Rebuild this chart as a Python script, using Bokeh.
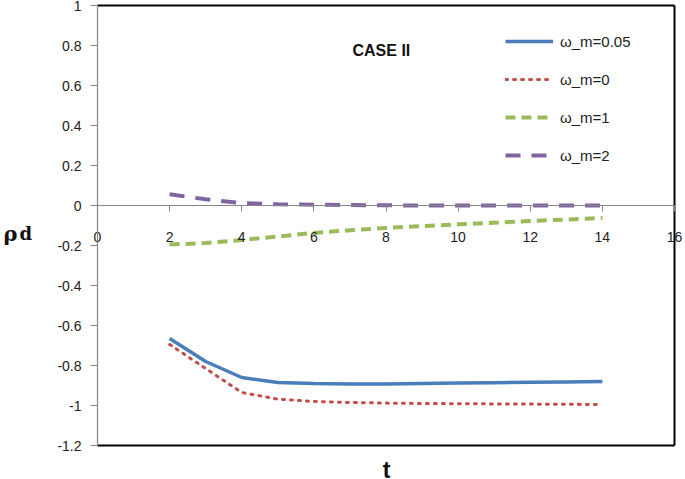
from bokeh.plotting import figure
from bokeh.models import (LinearAxis, FixedTicker, Label, Legend, LegendItem)
from bokeh.embed import file_html
from bokeh.resources import INLINE

t = [2, 3, 4, 5, 6, 7, 8, 9, 10, 11, 12, 13, 14]
rho_w005 = [-0.665, -0.78, -0.86, -0.885, -0.89, -0.893, -0.892, -0.89, -0.888, -0.886, -0.884, -0.882, -0.88]
rho_w0 = [-0.695, -0.815, -0.935, -0.968, -0.98, -0.985, -0.988, -0.99, -0.991, -0.992, -0.993, -0.994, -0.995]
rho_w1 = [-0.195, -0.188, -0.172, -0.155, -0.137, -0.124, -0.112, -0.103, -0.094, -0.086, -0.078, -0.07, -0.062]
rho_w2 = [0.056, 0.031, 0.012, 0.006, 0.004, 0.002, 0.001, 0.0, 0.0, 0.0, 0.0, 0.0, 0.0]

series_labels = ["ω_m=0.05", "ω_m=0", "ω_m=1", "ω_m=2"]
x_ticks = [0, 2, 4, 6, 8, 10, 12, 14, 16]
y_ticks = [-1.2, -1.0, -0.8, -0.6, -0.4, -0.2, 0.0, 0.2, 0.4, 0.6, 0.8, 1.0]
y_tick_labels = ["-1.2", "-1", "-0.8", "-0.6", "-0.4", "-0.2", "0", "0.2", "0.4", "0.6", "0.8", "1"]
X_LIM = (0, 16)
Y_LIM = (-1.2, 1.0)

FONT = "Liberation Sans"
W, H = 684, 479
# plot-area box on the page (pixels)
PX_L, PX_R, PX_T, PX_B = 97, 674, 5, 445

kx = (PX_R - PX_L) / (X_LIM[1] - X_LIM[0])
ky = (PX_B - PX_T) / (Y_LIM[1] - Y_LIM[0])
x_range = (X_LIM[0] - PX_L / kx, X_LIM[1] + (W - PX_R) / kx)
y_range = (Y_LIM[0] - (H - PX_B) / ky, Y_LIM[1] + PX_T / ky)

p = figure(width=W, height=H, x_range=x_range, y_range=y_range,
           output_backend="svg", toolbar_location=None,
           x_axis_location=None, y_axis_location=None, min_border=0)
p.xgrid.visible = False
p.ygrid.visible = False
p.outline_line_color = None
p.background_fill_color = "white"
p.border_fill_color = "white"

def style_axis(ax):
    ax.axis_line_color = "#868686"
    ax.axis_line_width = 1.2
    ax.major_tick_line_color = "#868686"
    ax.major_tick_in = 0
    ax.minor_tick_line_color = None
    ax.major_label_text_font = FONT
    ax.major_label_text_font_size = "14px"
    ax.major_label_text_color = "#222222"

# y axis at x=0
ya = LinearAxis(fixed_location=X_LIM[0], ticker=FixedTicker(ticks=y_ticks), bounds=Y_LIM)
ya.major_label_overrides = {v: s for v, s in zip(y_ticks, y_tick_labels)}
style_axis(ya)
ya.major_tick_out = 7
ya.major_label_standoff = 9
p.add_layout(ya, "left")

# x axis crossing at y=0
xa = LinearAxis(fixed_location=0, ticker=FixedTicker(ticks=x_ticks), bounds=X_LIM)
xa.major_label_overrides = {v: str(v) for v in x_ticks}
style_axis(xa)
xa.major_tick_out = 6
xa.major_label_standoff = 20
p.add_layout(xa, "below")

r1 = p.line(t, rho_w005, line_color="#4A7EBB", line_width=3.5)
r2 = p.line(t, rho_w0, line_color="#C0504D", line_width=3, line_dash="2 6", line_cap="round")
r3 = p.line(t, rho_w1, line_color="#9BBB59", line_width=4, line_dash="10 6")
r4 = p.line(t, rho_w2, line_color="#8064A2", line_width=4, line_dash="15 11")

# plot-area border (top, right, bottom), drawn after the data
p.multi_line(xs=[[X_LIM[0], X_LIM[1]], [X_LIM[1], X_LIM[1]], [X_LIM[0], X_LIM[1]]],
             ys=[[Y_LIM[1], Y_LIM[1]], [Y_LIM[1], Y_LIM[0]], [Y_LIM[0], Y_LIM[0]]],
             line_color="#000000", line_width=2, line_alpha=1.0)

legend = Legend(items=[LegendItem(label=s, renderers=[r]) for s, r in zip(series_labels, [r1, r2, r3, r4])],
                location=(505, H - 164), border_line_color=None, background_fill_alpha=0,
                label_text_font=FONT, label_text_font_size="15px", label_text_color="#222222",
                glyph_width=48, glyph_height=18, label_height=18, spacing=20, padding=0, margin=0,
                label_standoff=7)
p.add_layout(legend)

def lab(text, px, py, size, font=FONT, baseline="alphabetic", align="left"):
    p.add_layout(Label(x=px, y=H - py, x_units="screen", y_units="screen", text=text,
                       text_font=font, text_font_style="bold", text_font_size=size,
                       text_color="#111111", text_baseline=baseline, text_align=align))

lab("CASE II", 352, 50, "16px")
lab("t", 386, 469, "23px", align="center")
lab("ρ", 3, 233, "21px", font="DejaVu Serif")
lab("d", 19, 233, "18px", font="DejaVu Serif")

open("out.html", "w").write(file_html(p, INLINE))
